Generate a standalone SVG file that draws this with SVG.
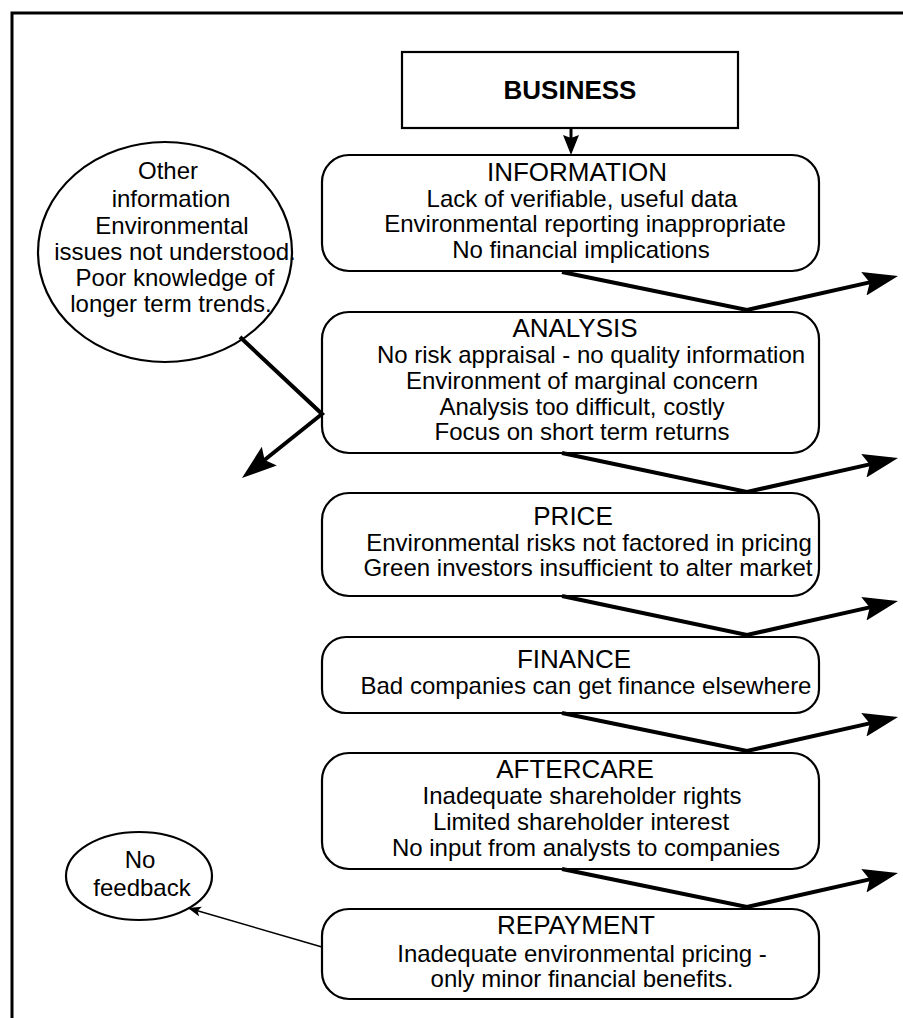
<svg xmlns="http://www.w3.org/2000/svg" width="903" height="1018" viewBox="0 0 903 1018">
<style>
.box{fill:#fff;stroke:#000;stroke-width:2.2}
.frame{fill:none;stroke:#000;stroke-width:3}
.t{font-family:"Liberation Sans",Arial,sans-serif;font-size:24px;fill:#000;text-anchor:middle}
.h{font-size:26px}
.b{font-family:"Liberation Sans",Arial,sans-serif;font-size:26px;font-weight:bold;text-anchor:middle}
.thick{fill:none;stroke:#000;stroke-width:4;stroke-linejoin:miter}
.thin{fill:none;stroke:#000;stroke-width:1.6}
</style>
<defs>
<marker id="big" markerUnits="userSpaceOnUse" markerWidth="36" markerHeight="26" refX="15" refY="12" orient="auto">
<path d="M0,0 L35,12 L0,24 L6,12 z" fill="#000"/>
</marker>
<marker id="mid" markerUnits="userSpaceOnUse" markerWidth="22" markerHeight="18" refX="10" refY="8" orient="auto">
<path d="M0,0 L20,8 L0,16 L3,8 z" fill="#000"/>
</marker>
<marker id="small" markerUnits="userSpaceOnUse" markerWidth="15" markerHeight="12" refX="13" refY="5" orient="auto">
<path d="M0,0 L13,5 L0,10 L3,5 z" fill="#000"/>
</marker>
</defs>
<rect class="frame" x="12" y="13" width="900" height="1020"/>

<g id="business">
<rect class="box" x="402" y="52" width="336" height="76"/>
<text class="b" x="570" y="99">BUSINESS</text>
</g>

<g id="information">
<rect class="box" x="322" y="155" width="497" height="116" rx="27"/>
<text class="t h" x="577" y="181">INFORMATION</text>
<text class="t" x="582" y="207">Lack of verifiable, useful data</text>
<text class="t" x="585" y="232">Environmental reporting inappropriate</text>
<text class="t" x="581" y="258">No financial implications</text>
</g>

<g id="analysis">
<rect class="box" x="322" y="312" width="497" height="141" rx="27"/>
<text class="t h" x="575" y="337">ANALYSIS</text>
<text class="t" x="591" y="363">No risk appraisal - no quality information</text>
<text class="t" x="582" y="389">Environment of marginal concern</text>
<text class="t" x="582" y="415">Analysis too difficult, costly</text>
<text class="t" x="582" y="440">Focus on short term returns</text>
</g>

<g id="price">
<rect class="box" x="322" y="493" width="497" height="103" rx="27"/>
<text class="t h" x="573" y="525">PRICE</text>
<text class="t" x="589" y="551">Environmental risks not factored in pricing</text>
<text class="t" x="588" y="576">Green investors insufficient to alter market</text>
</g>

<g id="finance">
<rect class="box" x="322" y="637" width="497" height="76" rx="24"/>
<text class="t h" x="574" y="668">FINANCE</text>
<text class="t" x="586" y="694">Bad companies can get finance elsewhere</text>
</g>

<g id="aftercare">
<rect class="box" x="322" y="753" width="497" height="116" rx="27"/>
<text class="t h" x="575" y="778">AFTERCARE</text>
<text class="t" x="582" y="804">Inadequate shareholder rights</text>
<text class="t" x="581" y="830">Limited shareholder interest</text>
<text class="t" x="586" y="856">No input from analysts to companies</text>
</g>

<g id="repayment">
<rect class="box" x="322" y="909" width="497" height="90" rx="27"/>
<text class="t h" x="576" y="934">REPAYMENT</text>
<text class="t" x="582" y="962">Inadequate environmental pricing -</text>
<text class="t" x="582" y="987">only minor financial benefits.</text>
</g>

<g id="other-information">
<ellipse class="box" cx="165" cy="252" rx="127" ry="110"/>
<text class="t" x="168" y="179">Other</text>
<text class="t" x="171" y="207">information</text>
<text class="t" x="172" y="234">Environmental</text>
<text class="t" x="175" y="260">issues not understood.</text>
<text class="t" x="175" y="286">Poor knowledge of</text>
<text class="t" x="171" y="312">longer term trends.</text>
</g>

<g id="no-feedback">
<ellipse class="box" cx="139" cy="876" rx="73" ry="44"/>
<text class="t" x="140" y="868">No</text>
<text class="t" x="142" y="896">feedback</text>
</g>

<g id="connectors">
<line class="thick" style="stroke-width:3" x1="571" y1="128" x2="571" y2="145" marker-end="url(#mid)"/>
<polyline class="thick" points="562,272 747,310 878.5,280.4" marker-end="url(#big)"/>
<polyline class="thick" points="562,453 747,492 878.5,462.4" marker-end="url(#big)"/>
<polyline class="thick" points="562,596 747,635 878.5,605.4" marker-end="url(#big)"/>
<polyline class="thick" points="562,713 747,751 878.5,721.4" marker-end="url(#big)"/>
<polyline class="thick" points="562,869 747,907 878.5,877.4" marker-end="url(#big)"/>
<polyline class="thick" points="240,337 322,414 257.6,465.5" marker-end="url(#big)"/>
<line class="thin" x1="322" y1="947" x2="188" y2="908" marker-end="url(#small)"/>
</g>
</svg>
